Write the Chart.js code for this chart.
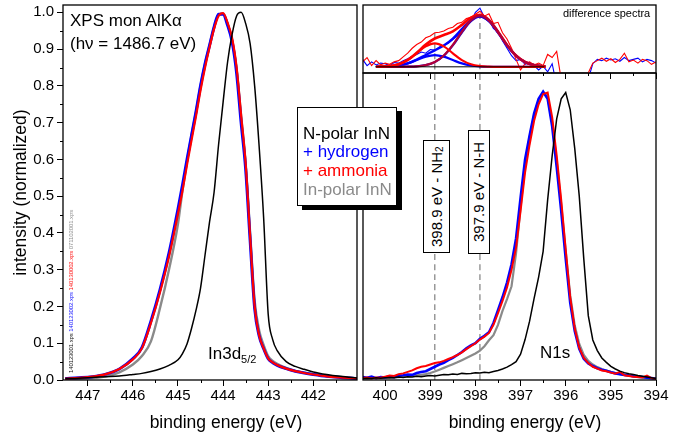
<!DOCTYPE html>
<html><head><meta charset="utf-8">
<script src="https://cdn.jsdelivr.net/npm/chart.js@4/dist/chart.umd.min.js"></script>
<style>
html,body{margin:0;padding:0;background:#fff;}
#wrap{position:relative;width:679px;height:437px;overflow:hidden;font-family:"Liberation Sans",Arial,sans-serif;color:#000;}
canvas{position:absolute;left:0;top:0;width:679px;height:437px;}
.t{position:absolute;white-space:nowrap;line-height:1;}
.vbox{position:absolute;box-sizing:border-box;border:1px solid #000;background:#fff;writing-mode:vertical-rl;transform:rotate(180deg);text-align:center;font-size:15px;white-space:nowrap;}
#legend{position:absolute;left:297px;top:107px;width:100px;height:99px;box-sizing:border-box;border:1px solid #000;background:#fff;box-shadow:5px 4px 0 #000;}
#legend div{position:absolute;left:5px;font-size:17px;line-height:1;white-space:nowrap;}
</style></head><body>
<div id="wrap">
<canvas id="cL" width="679" height="437"></canvas>
<canvas id="cR" width="679" height="437"></canvas>
<canvas id="cT" width="679" height="437"></canvas>

<div class="t" style="left:70px;top:11.5px;font-size:17px;">XPS mon AlKα</div>
<div class="t" style="left:70px;top:34.5px;font-size:17px;">(hν = 1486.7 eV)</div>
<div class="t" style="left:208px;top:344.5px;font-size:17px;">In3d<sub style="font-size:11px;vertical-align:-4px;">5/2</sub></div>
<div class="t" style="left:540px;top:343.5px;font-size:17px;">N1s</div>
<div class="t" style="left:563px;top:7.5px;font-size:11px;">difference spectra</div>
<div class="t" style="left:126px;top:414px;width:200px;text-align:center;font-size:17.5px;">binding energy (eV)</div>
<div class="t" style="left:425px;top:414px;width:200px;text-align:center;font-size:17.5px;">binding energy (eV)</div>
<div class="t" style="left:67.5px;top:200px;height:173px;writing-mode:vertical-rl;transform:rotate(180deg);font-size:5.8px;line-height:6px;"><span style="color:#000">140123001.xps</span> <span style="color:#00f">140123002.xps</span> <span style="color:#f00">140130002.xps</span> <span style="color:#888">071102001.xps</span></div>

<div class="vbox" style="left:423px;top:140px;width:27px;height:113px;line-height:25px;">398.9 eV - NH<sub style="font-size:10px;vertical-align:-3px;">2</sub></div>
<div class="vbox" style="left:468px;top:130px;width:22px;height:124px;line-height:20px;">397.9 eV - N-H</div>

<div id="legend">
<div style="top:17px;color:#000;">N-polar InN</div>
<div style="top:35px;color:#0000ff;">+ hydrogen</div>
<div style="top:54px;color:#ff0000;">+ ammonia</div>
<div style="top:73px;color:#8a8a8a;">In-polar InN</div>
</div>
</div>
<script>
// ---------- In3d5/2 data ----------
const IN_E = [447.5,447.2,446.9,446.6,446.3,446.0,445.8,445.6,445.4,445.2,445.0,
  444.9,444.8,444.7,444.6,444.5,444.4,444.3,444.2,444.1,444.0,443.9,443.8,443.7,443.6,443.5,443.4,443.3,443.2,443.1,443.0,442.9,442.8,
  442.6,442.4,442.2,442.0,441.7,441.4,441.0];
const IN_NPOLAR = [0.004,0.005,0.007,0.009,0.011,0.015,0.018,0.023,0.030,0.040,0.055,
  0.072,0.098,0.14,0.19,0.25,0.34,0.43,0.51,0.64,0.755,0.865,0.94,0.99,1.0,0.97,0.915,0.80,0.635,0.44,0.18,0.11,0.08,
  0.05,0.037,0.029,0.022,0.015,0.010,0.005];
const IN_HYDROGEN = [0.004,0.006,0.009,0.016,0.030,0.058,0.088,0.16,0.245,0.345,0.465,
  0.53,0.60,0.665,0.73,0.80,0.86,0.91,0.96,0.995,0.995,0.965,0.92,0.835,0.70,0.575,0.38,0.195,0.12,0.085,0.058,0.047,0.040,
  0.031,0.024,0.019,0.015,0.010,0.007,0.004];
const IN_AMMONIA = [0.004,0.006,0.009,0.016,0.030,0.056,0.086,0.155,0.238,0.335,0.452,
  0.515,0.585,0.652,0.718,0.788,0.85,0.905,0.955,0.99,0.998,0.972,0.93,0.85,0.72,0.59,0.39,0.20,0.122,0.086,0.059,0.048,0.041,
  0.031,0.024,0.019,0.015,0.010,0.007,0.004];
const IN_INPOLAR = [0.002,0.003,0.005,0.010,0.021,0.042,0.065,0.105,0.195,0.30,0.425,
  0.515,0.595,0.665,0.73,0.80,0.86,0.91,0.96,0.993,0.996,0.968,0.925,0.845,0.72,0.59,0.40,0.215,0.135,0.095,0.065,0.052,0.044,
  0.033,0.025,0.020,0.016,0.011,0.008,0.004];

// ---------- N1s data ----------
const N_E = [400.5,400.4,400.3,400.2,400.1,400.0,399.9,399.8,399.7,399.6,399.5,399.4,399.3,399.2,399.1,399.0,
  398.9,398.8,398.7,398.6,398.5,398.4,398.3,398.2,398.1,398.0,397.9,397.8,397.7,397.6,397.5,397.4,397.3,397.2,397.1,397.0,
  396.9,396.8,396.7,396.6,396.5,396.4,396.3,396.2,396.1,396.0,395.9,395.8,395.7,395.6,395.5,395.4,395.3,395.2,395.1,395.0,
  394.9,394.8,394.7,394.6,394.5,394.4,394.3,394.2,394.1,394.0];
const N_NPOLAR = [0.004,0.005,0.004,0.006,0.005,0.006,0.007,0.006,0.008,0.007,0.009,0.008,0.010,0.009,0.011,0.012,
  0.011,0.013,0.015,0.014,0.016,0.015,0.018,0.017,0.018,0.020,0.019,0.021,0.020,0.023,0.026,0.030,0.035,0.042,0.050,0.070,
  0.110,0.160,0.222,0.280,0.350,0.490,0.610,0.710,0.765,0.782,0.735,0.630,0.500,0.330,0.175,0.109,0.080,0.060,0.048,0.037,
  0.030,0.024,0.020,0.017,0.015,0.012,0.010,0.008,0.006,0.004];
const N_HYDROGEN = [0.008,0.006,0.009,0.005,0.008,0.007,0.010,0.008,0.012,0.013,0.015,0.014,0.019,0.022,0.024,0.030,
  0.036,0.042,0.047,0.054,0.060,0.068,0.076,0.086,0.094,0.100,0.112,0.120,0.130,0.155,0.190,0.225,0.265,0.315,0.385,0.495,
  0.600,0.665,0.725,0.765,0.784,0.765,0.690,0.580,0.460,0.330,0.210,0.133,0.085,0.058,0.045,0.038,0.032,0.028,0.025,0.021,
  0.018,0.016,0.014,0.012,0.010,0.009,0.008,0.006,0.005,0.003];
const N_AMMONIA = [0.005,0.007,0.004,0.007,0.006,0.009,0.012,0.011,0.016,0.018,0.022,0.026,0.032,0.036,0.038,0.042,
  0.046,0.048,0.052,0.057,0.062,0.068,0.075,0.084,0.092,0.100,0.110,0.118,0.128,0.150,0.182,0.215,0.252,0.300,0.360,0.460,
  0.565,0.640,0.705,0.750,0.778,0.782,0.715,0.610,0.490,0.355,0.225,0.140,0.088,0.060,0.046,0.036,0.031,0.026,0.024,0.020,
  0.017,0.022,0.013,0.011,0.009,0.008,0.007,0.012,0.005,0.003];
const N_INPOLAR = [0.004,0.004,0.005,0.005,0.005,0.006,0.006,0.007,0.008,0.009,0.010,0.011,0.013,0.014,0.016,0.019,
  0.023,0.028,0.033,0.038,0.043,0.048,0.054,0.060,0.066,0.072,0.080,0.092,0.108,0.122,0.150,0.188,0.220,0.255,0.345,0.470,
  0.585,0.660,0.720,0.762,0.783,0.770,0.700,0.595,0.478,0.350,0.230,0.148,0.098,0.068,0.052,0.042,0.035,0.030,0.026,0.022,
  0.019,0.016,0.014,0.012,0.010,0.008,0.007,0.006,0.005,0.004];

// ---------- difference spectra (top panel) ----------
const DIFF_HYDROGEN = [0.12,0.02,0.08,0.03,0.06,0.05,0.02,0.07,0.06,0.10,0.13,0.17,0.20,0.24,0.22,0.28,
  0.27,0.32,0.35,0.38,0.44,0.50,0.58,0.66,0.73,0.88,0.95,0.80,0.76,0.62,0.58,0.42,0.30,0.18,0.10,0.12,
  0.04,0.07,0.02,-0.05,0.01,-0.08,0.05,-0.3,-0.6,-1,-1,-1,-1,-1,-0.2,0.05,0.12,0.10,0.14,0.11,
  0.13,0.09,0.15,0.10,0.12,0.14,0.08,0.12,0.10,0.06];
const DIFF_AMMONIA = [0.08,0.15,0.02,0.10,0.03,0.06,0.04,0.08,0.10,0.16,0.22,0.30,0.36,0.40,0.47,0.50,
  0.55,0.56,0.58,0.62,0.64,0.70,0.72,0.78,0.80,0.85,0.90,0.82,0.86,0.70,0.72,0.55,0.45,0.30,0.12,-0.05,
  0.05,0.08,0.03,0.06,0.02,0.20,0.15,0.25,-0.2,-1,-1,-1,-1,-1,-0.1,0.06,0.10,0.14,0.09,0.13,
  0.07,0.12,0.22,0.08,0.11,0.06,0.12,0.10,0.04,0.08];
const FIT_E = [400.2,400.1,399.9,399.7,399.5,399.3,399.1,398.9,398.7,398.5,398.3,398.1,397.9,397.7,397.5,397.3,397.1,396.9,396.7,396.5,396.45];
const FIT_AMMONIA_NH2 = [0.001,0.003,0.012,0.041,0.109,0.219,0.331,0.38,0.331,0.219,0.109,0.041,0.012,0.003,0,0,0,0,0,0,0];
const FIT_AMMONIA_NH  = [0,0,0,0,0.002,0.008,0.028,0.078,0.183,0.354,0.569,0.755,0.83,0.755,0.569,0.354,0.183,0.078,0.028,0.008,0.006];
const FIT_AMMONIA_SUM = [0.001,0.003,0.012,0.041,0.111,0.227,0.359,0.458,0.514,0.573,0.678,0.796,0.842,0.758,0.569,0.354,0.183,0.078,0.028,0.008,0.006];
const FIT_HYDROGEN_NH2 = [0,0.001,0.006,0.021,0.055,0.109,0.165,0.19,0.165,0.109,0.055,0.021,0.006,0.001,0,0,0,0,0,0,0];
const FIT_HYDROGEN_NH  = [0,0,0,0,0.002,0.008,0.027,0.076,0.178,0.346,0.555,0.737,0.81,0.737,0.555,0.346,0.178,0.076,0.027,0.008,0.006];
const FIT_HYDROGEN_SUM = [0.001,0.001,0.006,0.021,0.057,0.117,0.192,0.266,0.343,0.455,0.61,0.758,0.816,0.738,0.555,0.346,0.178,0.076,0.027,0.008,0.006];
const BASELINE_E = [400.22, 396.47];
const BASELINE_Y = [0, 0];
const PEAK_NH2 = 398.9, PEAK_NH = 397.9;

// tick definitions
const IN_MINOR = [441.5,442.5,443.5,444.5,445.5,446.5];
const Y_MINOR = [0.05,0.15,0.25,0.35,0.45,0.55,0.65,0.75,0.85,0.95];
const N_MINOR = [394.5,395.5,396.5,397.5,398.5,399.5];

const FONT = '"Liberation Sans", Arial, sans-serif';
Chart.defaults.font.family = FONT;
Chart.defaults.color = '#000';

const pts = (xs, ys) => xs.map((x, i) => ({x, y: ys[i]}));

const framePlugin = {
  id: 'frame',
  afterDraw(chart, args, opts) {
    const {ctx, chartArea: a} = chart;
    ctx.save();
    ctx.strokeStyle = '#000';
    ctx.lineWidth = 1.3;
    ctx.strokeRect(a.left, a.top, a.right - a.left, a.bottom - a.top);
    ctx.lineWidth = 1;
    (opts.minor || []).forEach(m => {
      const s = chart.scales[m.axis];
      m.values.forEach(v => {
        const p = Math.round(s.getPixelForValue(v)) + 0.5;
        ctx.beginPath();
        if (s.isHorizontal()) { ctx.moveTo(p, a.bottom); ctx.lineTo(p, a.bottom + m.len); }
        else { ctx.moveTo(a.left, p); ctx.lineTo(a.left - m.len, p); }
        ctx.stroke();
      });
    });
    ctx.restore();
  }
};

const noPad = s => { s.paddingTop = 0; s.paddingBottom = 0; s.paddingLeft = 0; s.paddingRight = 0; };

const xAxisBase = (min, max, showLabels, h) => ({
  type: 'linear', reverse: true, min, max,
  afterFit: s => { s.height = h; noPad(s); },
  ticks: {display: showLabels, stepSize: 1, includeBounds: false, maxRotation: 0, autoSkip: false,
          font: {size: 15}, color: '#000', padding: 1},
  grid: {drawOnChartArea: false, drawTicks: true, tickLength: 6, tickColor: '#000', tickWidth: 1, color: '#000'},
  border: {display: false}
});

const line = (label, data, color, width, extra) => Object.assign({
  label, data, borderColor: color, borderWidth: width, pointRadius: 0, fill: false,
  cubicInterpolationMode: 'monotone'
}, extra || {});

// ---------- Left chart: In3d5/2 ----------
new Chart(document.getElementById('cL'), {
  type: 'line',
  data: {datasets: [
    line('N-polar InN', pts(IN_E, IN_NPOLAR), '#000000', 1.5),
    line('+ ammonia', pts(IN_E, IN_AMMONIA), '#ff0000', 2.2),
    line('+ hydrogen', pts(IN_E, IN_HYDROGEN), '#0000ff', 3),
    line('In-polar InN', pts(IN_E, IN_INPOLAR), '#8a8a8a', 2.4)
  ]},
  options: {
    responsive: false, animation: false, events: [],
    layout: {padding: {left: 0, top: 5, right: 322, bottom: 0}},
    plugins: {legend: {display: false}, tooltip: {enabled: false},
      frame: {minor: [{axis: 'x', values: IN_MINOR, len: 3}, {axis: 'y', values: Y_MINOR, len: 3}]}},
    scales: {
      x: xAxisBase(441.03, 447.55, true, 57),
      y: {
        type: 'linear', min: 0, max: 1.02,
        afterFit: s => { s.width = 63; noPad(s); },
        ticks: {stepSize: 0.1, includeBounds: false, font: {size: 15}, color: '#000', padding: 3,
                callback: v => v.toFixed(1)},
        grid: {drawOnChartArea: false, tickLength: 6, tickColor: '#000', tickWidth: 1},
        border: {display: false},
        title: {display: true, text: 'intensity (normalized)', font: {size: 17.5}, color: '#000', padding: {top: 11, bottom: 0}}
      }
    }
  },
  plugins: [framePlugin]
});

// ---------- Right lower chart: N1s ----------
new Chart(document.getElementById('cR'), {
  type: 'line',
  data: {datasets: [
    line('N-polar InN', pts(N_E, N_NPOLAR), '#000000', 1.5, {cubicInterpolationMode: 'default', tension: 0}),
    line('+ ammonia', pts(N_E, N_AMMONIA), '#ff0000', 2, {cubicInterpolationMode: 'default', tension: 0}),
    line('+ hydrogen', pts(N_E, N_HYDROGEN), '#0000ff', 2.6, {cubicInterpolationMode: 'default', tension: 0}),
    line('In-polar InN', pts(N_E, N_INPOLAR), '#8a8a8a', 2.2, {cubicInterpolationMode: 'default', tension: 0}),
    line('NH2', [{x: PEAK_NH2, y: 0}, {x: PEAK_NH2, y: 0.84}], '#8a8a8a', 1.3, {borderDash: [6, 4]}),
    line('NH', [{x: PEAK_NH, y: 0}, {x: PEAK_NH, y: 0.84}], '#8a8a8a', 1.3, {borderDash: [6, 4]})
  ]},
  options: {
    responsive: false, animation: false, events: [],
    layout: {padding: {left: 363, top: 73, right: 23, bottom: 0}},
    plugins: {legend: {display: false}, tooltip: {enabled: false},
      frame: {minor: [{axis: 'x', values: N_MINOR, len: 3}]}},
    scales: {
      x: xAxisBase(394.0, 400.49, true, 57),
      y: {type: 'linear', min: 0, max: 0.835, display: false}
    }
  },
  plugins: [framePlugin]
});

// ---------- Right top chart: difference spectra ----------
new Chart(document.getElementById('cT'), {
  type: 'line',
  data: {datasets: [
    line('baseline', pts(BASELINE_E, BASELINE_Y), '#000000', 1),
    line('ammonia NH2', pts(FIT_E, FIT_AMMONIA_NH2), '#ff0000', 2.2),
    line('ammonia NH', pts(FIT_E, FIT_AMMONIA_NH), '#b0003a', 2.2),
    line('ammonia sum', pts(FIT_E, FIT_AMMONIA_SUM), '#ff0000', 2.6),
    line('hydrogen NH2', pts(FIT_E, FIT_HYDROGEN_NH2), '#0000ff', 2.2),
    line('hydrogen NH', pts(FIT_E, FIT_HYDROGEN_NH), '#3000c0', 2.2),
    line('hydrogen sum', pts(FIT_E, FIT_HYDROGEN_SUM), '#0000ff', 2.4),
    line('ammonia diff', pts(N_E, DIFF_AMMONIA), '#ff0000', 1.1, {cubicInterpolationMode: 'default', tension: 0}),
    line('hydrogen diff', pts(N_E, DIFF_HYDROGEN), '#0000ff', 1.1, {cubicInterpolationMode: 'default', tension: 0}),
    line('NH2', [{x: PEAK_NH2, y: -0.2}, {x: PEAK_NH2, y: 0.55}], '#8a8a8a', 1.3, {borderDash: [6, 4]}),
    line('NH', [{x: PEAK_NH, y: -0.2}, {x: PEAK_NH, y: 0.85}], '#8a8a8a', 1.3, {borderDash: [6, 4]})
  ]},
  options: {
    responsive: false, animation: false, events: [],
    layout: {padding: {left: 363, top: 5, right: 23, bottom: 364}},
    plugins: {legend: {display: false}, tooltip: {enabled: false},
      frame: {minor: [{axis: 'x', values: N_MINOR, len: 3}]}},
    scales: {
      x: xAxisBase(394.0, 400.49, false, 0),
      y: {type: 'linear', min: -0.1, max: 1.0, display: false}
    }
  },
  plugins: [framePlugin]
});
</script>
</body></html>
